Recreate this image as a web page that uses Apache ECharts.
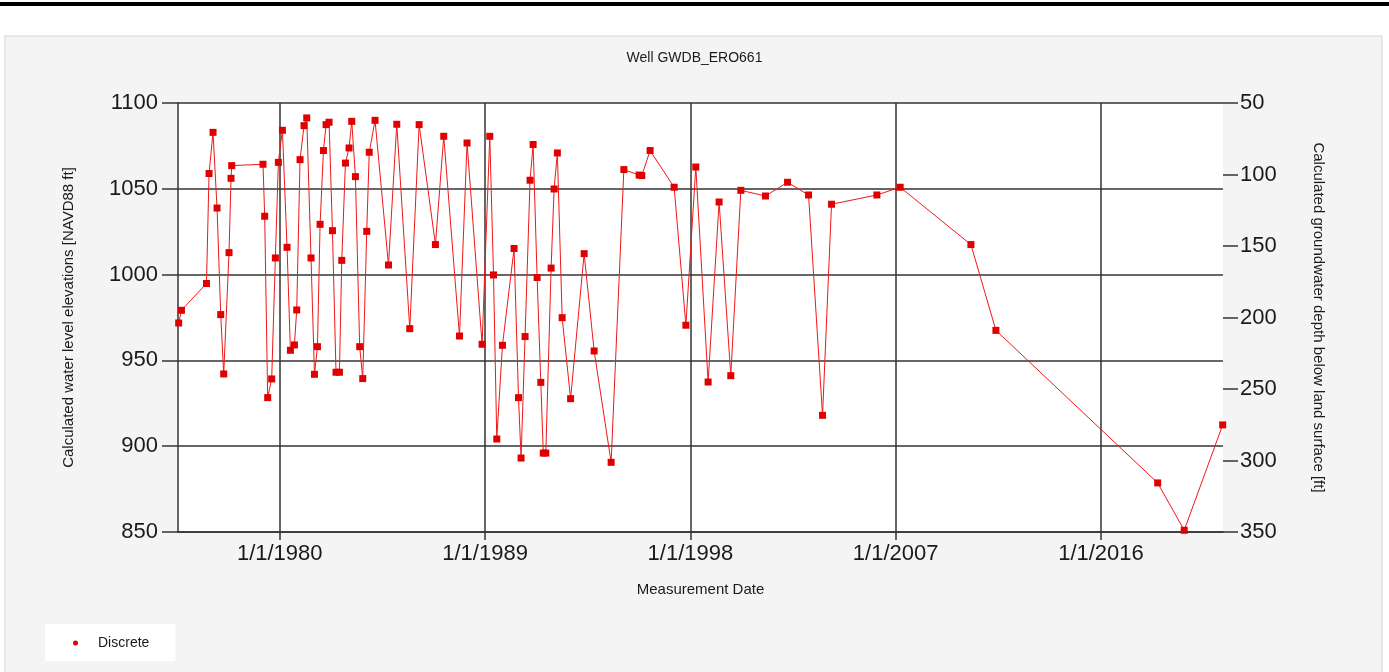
<!DOCTYPE html>
<html>
<head>
<meta charset="utf-8">
<title>Well GWDB_ERO661</title>
<script src="https://cdn.jsdelivr.net/npm/echarts@6/dist/echarts.min.js"></script>
<style>
  html, body { margin: 0; padding: 0; background: #ffffff; }
  #chart { width: 1389px; height: 672px; }
</style>
</head>
<body>
<div id="chart"></div>
<script>
// Measurement dates and calculated water level elevations [NAVD88 ft]
const measurementDates = [
  '1975-07-28', '1975-09-10', '1976-10-15', '1976-11-25', '1977-01-28', '1977-04-02',
  '1977-05-31', '1977-07-18', '1977-10-11', '1977-11-12', '1977-11-23', '1979-04-08',
  '1979-05-05', '1979-06-22', '1979-08-25', '1979-10-23', '1979-12-10', '1980-02-13',
  '1980-04-27', '1980-06-20', '1980-08-23', '1980-09-29', '1980-11-21', '1981-01-24',
  '1981-03-08', '1981-05-16', '1981-07-10', '1981-08-27', '1981-10-08', '1981-12-01',
  '1982-01-12', '1982-03-01', '1982-04-24', '1982-06-20', '1982-08-14', '1982-09-20',
  '1982-11-18', '1983-01-15', '1983-02-27', '1983-04-27', '1983-07-04', '1983-08-22',
  '1983-10-25', '1983-12-04', '1984-03-06', '1984-10-07', '1985-02-17', '1985-09-13',
  '1986-02-10', '1986-10-29', '1987-03-11', '1987-11-18', '1988-03-18', '1988-11-14',
  '1989-03-17', '1989-05-16', '1989-07-07', '1989-10-06', '1990-04-10', '1990-06-20',
  '1990-07-31', '1990-10-03', '1990-12-22', '1991-02-09', '1991-04-14', '1991-06-12',
  '1991-07-22', '1991-08-31', '1991-11-24', '1992-01-11', '1992-03-03', '1992-05-19',
  '1992-10-01', '1993-05-06', '1993-10-13', '1994-07-12', '1995-02-01', '1995-10-03',
  '1995-11-15', '1996-03-27', '1997-04-16', '1997-10-21', '1998-03-29', '1998-10-12',
  '1999-04-06', '1999-10-10', '2000-03-19', '2001-04-18', '2002-04-06', '2003-03-08',
  '2003-10-18', '2004-03-10', '2006-03-06', '2007-03-14', '2010-04-20', '2011-05-25',
  '2018-06-27', '2019-08-26', '2021-05-03'
];
const waterLevels = [
  971.8, 979.2, 994.8, 1058.9, 1082.9, 1038.8,
  976.7, 942.1, 1012.8, 1056.1, 1063.5, 1064.3,
  1034.0, 928.3, 939.2, 1009.7, 1065.4, 1084.1,
  1015.9, 955.9, 959.0, 979.4, 1067.0, 1086.8,
  1091.3, 1009.7, 941.9, 958.0, 1029.3, 1072.3,
  1087.4, 1088.8, 1025.6, 943.1, 943.1, 1008.3,
  1065.0, 1073.8, 1089.3, 1057.1, 958.0, 939.4,
  1025.2, 1071.3, 1089.9, 1005.6, 1087.6, 968.5,
  1087.4, 1017.5, 1080.6, 964.2, 1076.7, 959.4,
  1080.6, 999.8, 904.2, 958.8, 1015.2, 928.3,
  893.1, 963.9, 1055.0, 1075.8, 998.3, 937.2,
  896.0, 896.0, 1003.8, 1049.9, 1070.9, 974.9,
  927.7, 1012.2, 955.5, 890.6, 1061.2, 1058.0,
  1057.7, 1072.3, 1050.9, 970.5, 1062.7, 937.4,
  1042.3, 941.1, 1049.1, 1045.8, 1053.8, 1046.4,
  918.0, 1041.0, 1046.4, 1050.9, 1017.5, 967.5,
  878.6, 851.0, 912.4
];
// Date axis ticks (every nine years) and the displayed date range
const dateTicks = ['1980-01-01', '1989-01-01', '1998-01-01', '2007-01-01', '2016-01-01'];
const dateRange = ['1975-07-17', '2021-05-08'];

function toUTC(s) {
  const p = s.split('-').map(Number);
  return Date.UTC(p[0], p[1] - 1, p[2]);
}
function formatDate(ms) {
  const d = new Date(ms);
  return (d.getUTCMonth() + 1) + '/' + d.getUTCDate() + '/' + d.getUTCFullYear();
}
function plainNumber(v) {
  return String(v);
}

const seriesData = measurementDates.map((d, i) => [toUTC(d), waterLevels[i]]);
const tickValues = dateTicks.map(toUTC);

const labelFont = { fontFamily: 'Liberation Sans', fontSize: 22, color: '#1a1a1a' };
const nameFont = { fontFamily: 'Liberation Sans', fontSize: 15, color: '#1a1a1a' };
const gridLine = { color: '#333333', width: 1.5 };

const chart = echarts.init(document.getElementById('chart'), null, { renderer: 'canvas' });
chart.setOption({
  backgroundColor: '#ffffff',
  animation: false,
  graphic: [
    { type: 'rect', silent: true, z: -10, shape: { x: 0, y: 2, width: 1389, height: 4 }, style: { fill: '#000000' } },
    { type: 'rect', silent: true, z: -10, shape: { x: 5, y: 36, width: 1377, height: 640 }, style: { fill: '#f4f4f4', stroke: '#e2e2e2', lineWidth: 1.5 } }
  ],
  title: {
    text: 'Well GWDB_ERO661',
    left: 'center',
    top: 46,
    textStyle: { fontFamily: 'Liberation Sans', fontSize: 14, fontWeight: 'normal', color: '#1a1a1a' }
  },
  legend: {
    left: 45,
    top: 624,
    orient: 'horizontal',
    backgroundColor: '#ffffff',
    padding: [12, 26, 11, 28],
    icon: 'circle',
    itemWidth: 5,
    itemHeight: 5,
    data: ['Discrete'],
    textStyle: { fontFamily: 'Liberation Sans', fontSize: 14, color: '#1a1a1a', padding: [0, 0, 0, 15] }
  },
  grid: {
    left: 178,
    top: 103,
    width: 1045,
    height: 429,
    show: true,
    backgroundColor: '#ffffff',
    borderWidth: 0,
    containLabel: false
  },
  xAxis: {
    type: 'value',
    min: toUTC(dateRange[0]),
    max: toUTC(dateRange[1]),
    name: 'Measurement Date',
    nameLocation: 'middle',
    nameGap: 50,
    nameTextStyle: nameFont,
    axisLine: { show: true, lineStyle: gridLine },
    axisTick: { show: true, length: 8, lineStyle: gridLine, customValues: tickValues },
    axisLabel: Object.assign({ margin: 11, customValues: tickValues, formatter: formatDate, hideOverlap: false }, labelFont),
    splitLine: { show: true, lineStyle: gridLine }
  },
  yAxis: [
    {
      type: 'value',
      position: 'left',
      min: 850,
      max: 1100,
      interval: 50,
      name: 'Calculated water level elevations [NAVD88 ft]',
      nameLocation: 'middle',
      nameGap: 102,
      nameTextStyle: nameFont,
      axisLine: { show: true, lineStyle: gridLine },
      axisTick: { show: true, length: 16, lineStyle: gridLine },
      axisLabel: Object.assign({ margin: 20, formatter: plainNumber }, labelFont),
      splitLine: { show: true, lineStyle: gridLine }
    },
    {
      type: 'value',
      position: 'right',
      min: 50,
      max: 350,
      interval: 50,
      inverse: true,
      name: 'Calculated groundwater depth below land surface [ft]',
      nameLocation: 'middle',
      nameRotate: -90,
      nameGap: 88,
      nameTextStyle: nameFont,
      axisLine: { show: false },
      axisTick: { show: true, length: 15, lineStyle: gridLine },
      axisLabel: Object.assign({ margin: 17, formatter: plainNumber }, labelFont),
      splitLine: { show: false }
    }
  ],
  series: [
    {
      name: 'Discrete',
      type: 'line',
      yAxisIndex: 0,
      data: seriesData,
      clip: false,
      symbol: 'rect',
      symbolSize: 7,
      showAllSymbol: true,
      itemStyle: { color: '#e00000' },
      lineStyle: { color: '#f01818', width: 1 }
    }
  ]
});
</script>
</body>
</html>
